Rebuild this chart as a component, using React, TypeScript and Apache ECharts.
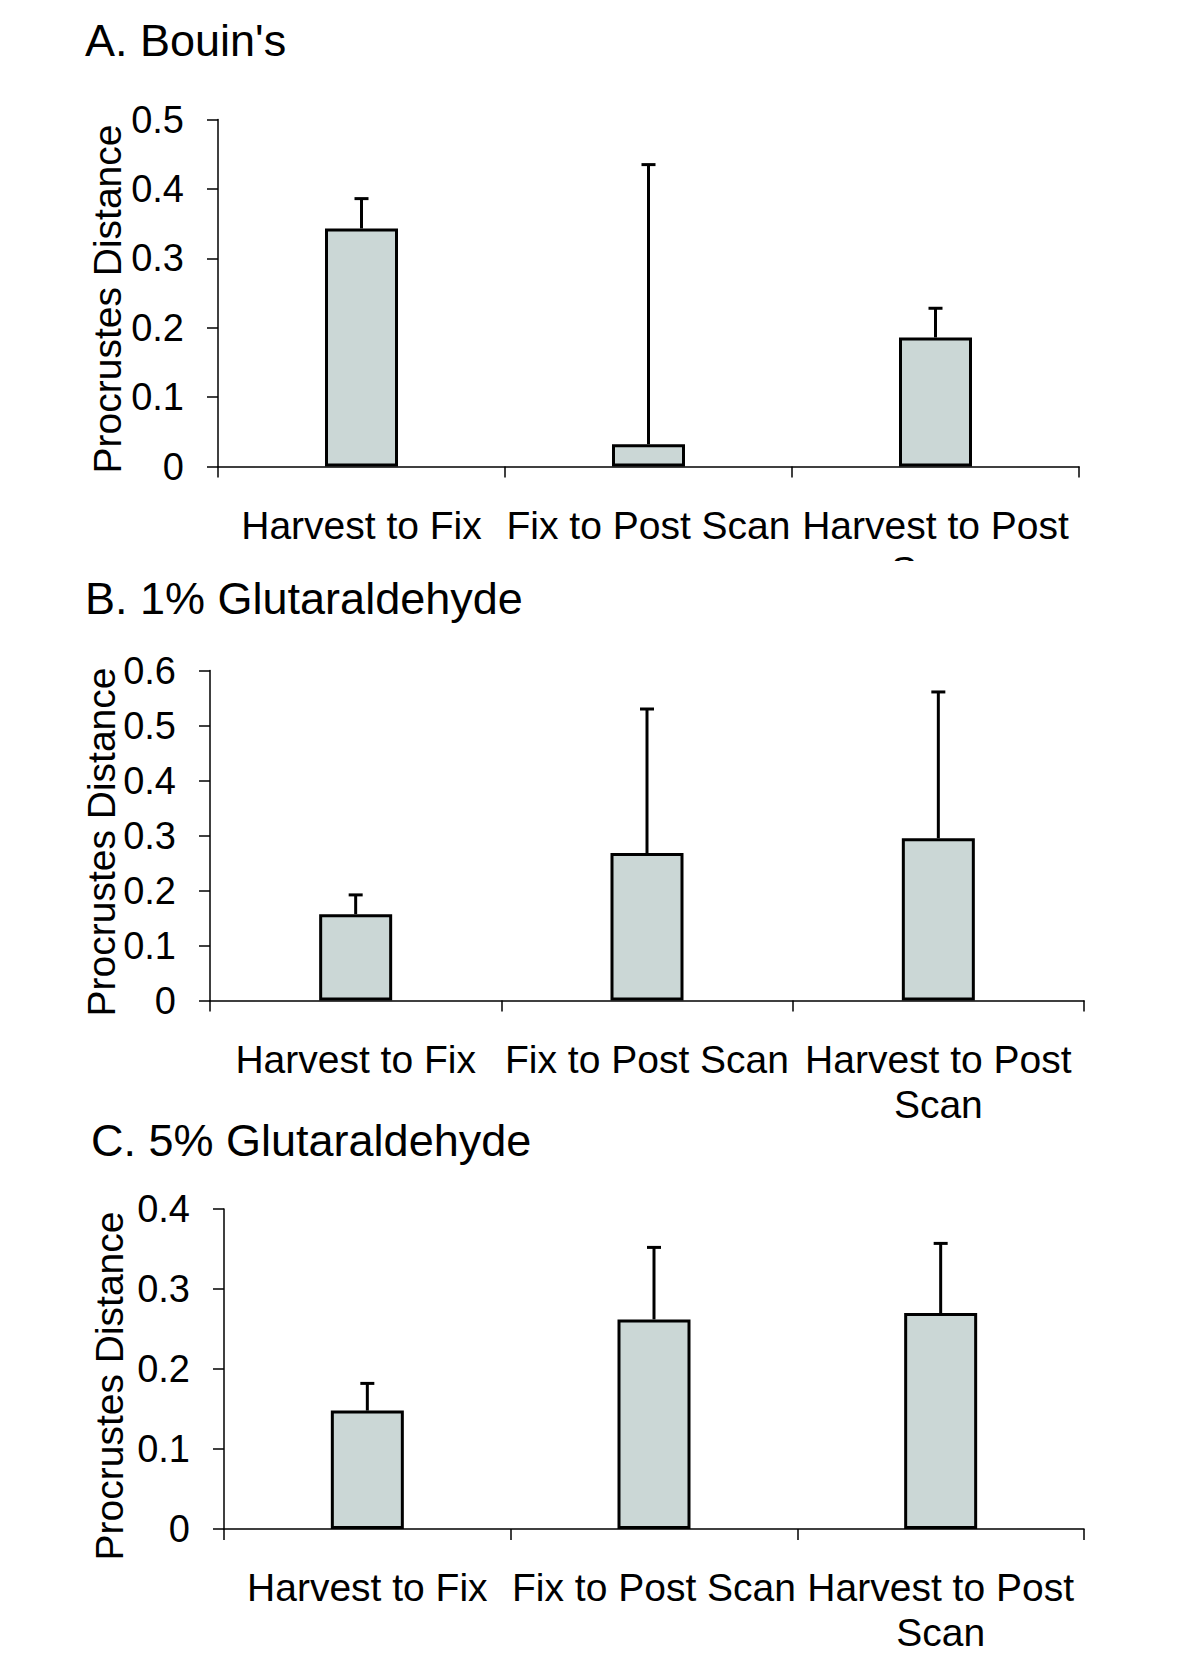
import React, { useEffect, useRef } from "react";
import * as echarts from "echarts";

const categoriesA = ["Harvest to Fix", "Fix to Post Scan", "Harvest to Post\nScan"];
const categoriesB = ["Harvest to Fix", "Fix to Post Scan", "Harvest to Post\nScan"];
const categoriesC = ["Harvest to Fix", "Fix to Post Scan", "Harvest to Post\nScan"];

const meanA = [0.343, 0.032, 0.186];
const upperA = [0.386, 0.435, 0.228];
const meanB = [0.157, 0.268, 0.295];
const upperB = [0.192, 0.53, 0.561];
const meanC = [0.148, 0.262, 0.27];
const upperC = [0.182, 0.352, 0.357];

const titleA = "A. Bouin's";
const titleB = "B. 1% Glutaraldehyde";
const titleC = "C. 5% Glutaraldehyde";
const yName = "Procrustes Distance";

const FONT = "'Liberation Sans', Arial, Helvetica, sans-serif";

type PanelCfg = {
  divTop: number;
  divHeight: number;
  title: string;
  titleX: number;
  titleY: number;
  nameX: number;
  nameY: number;
  gridLeft: number;
  gridRight: number;
  gridTop: number;
  gridHeight: number;
  yMax: number;
  categories: string[];
  mean: number[];
  upper: number[];
};

function buildOption(c: PanelCfg) {
  const off = c.divTop;
  return {
    animation: false,
    textStyle: { fontFamily: FONT },
    grid: {
      left: c.gridLeft,
      right: c.gridRight,
      top: c.gridTop - off,
      height: c.gridHeight,
      containLabel: false,
      outerBoundsMode: "none",
    },
    graphic: [
      {
        type: "text",
        x: c.titleX,
        y: c.titleY - off,
        style: {
          text: c.title,
          font: `45px ${FONT}`,
          fill: "#000",
          textAlign: "left",
          textVerticalAlign: "middle",
        },
      },
      {
        type: "text",
        x: c.nameX,
        y: c.nameY - off,
        rotation: Math.PI / 2,
        style: {
          text: yName,
          font: `39px ${FONT}`,
          fill: "#000",
          textAlign: "center",
          textVerticalAlign: "middle",
        },
      },
    ],
    xAxis: {
      type: "category",
      data: c.categories,
      boundaryGap: true,
      axisLine: { show: true, lineStyle: { color: "#000", width: 1.5 } },
      axisTick: { show: true, inside: false, length: 11, lineStyle: { color: "#000", width: 1.5 } },
      axisLabel: {
        interval: 0,
        margin: 36,
        color: "#000",
        fontSize: 39,
        lineHeight: 45,
        fontFamily: FONT,
      },
    },
    yAxis: {
      type: "value",
      min: 0,
      max: c.yMax,
      interval: 0.1,
      splitLine: { show: false },
      axisLine: { show: true, lineStyle: { color: "#000", width: 1.5 } },
      axisTick: { show: true, inside: false, length: 11, lineStyle: { color: "#000", width: 1.5 } },
      axisLabel: {
        margin: 34,
        color: "#000",
        fontSize: 38,
        fontFamily: FONT,
        formatter: (v: number) => (v === 0 ? "0" : String(Math.round(v * 10) / 10)),
      },
    },
    series: [
      {
        type: "bar",
        data: c.mean,
        barWidth: 73,
        itemStyle: { color: "#cbd7d6", borderColor: "#000", borderWidth: 3 },
        z: 2,
      },
      {
        type: "custom",
        z: 3,
        data: c.mean.map((m, i) => [i, m, c.upper[i]]),
        renderItem: (params: any, api: any) => {
          const base = api.coord([api.value(0), api.value(1)]);
          const top = api.coord([api.value(0), api.value(2)]);
          return {
            type: "group",
            children: [
              {
                type: "line",
                shape: { x1: base[0], y1: base[1], x2: base[0], y2: top[1] },
                style: { stroke: "#000", lineWidth: 3 },
              },
              {
                type: "line",
                shape: { x1: base[0] - 7, y1: top[1], x2: base[0] + 7, y2: top[1] },
                style: { stroke: "#000", lineWidth: 3 },
              },
            ],
          };
        },
      },
    ],
  };
}

function Panel({ cfg }: { cfg: PanelCfg }) {
  const ref = useRef<HTMLDivElement>(null);
  useEffect(() => {
    if (!ref.current) return;
    const chart = echarts.init(ref.current, undefined, { renderer: "svg" });
    chart.setOption(buildOption(cfg) as any);
    return () => chart.dispose();
  }, []);
  return (
    <div
      style={{
        position: "absolute",
        left: 0,
        top: cfg.divTop,
        width: 1200,
        height: cfg.divHeight,
        overflow: "hidden",
      }}
    >
      <div ref={ref} style={{ width: 1200, height: cfg.divHeight }} />
    </div>
  );
}

const panels: PanelCfg[] = [
  {
    divTop: 0,
    divHeight: 561,
    title: titleA,
    titleX: 85,
    titleY: 40,
    nameX: 107,
    nameY: 299,
    gridLeft: 218,
    gridRight: 121,
    gridTop: 119.5,
    gridHeight: 347,
    yMax: 0.5,
    categories: categoriesA,
    mean: meanA,
    upper: upperA,
  },
  {
    divTop: 561,
    divHeight: 580,
    title: titleB,
    titleX: 85,
    titleY: 598,
    nameX: 101,
    nameY: 842,
    gridLeft: 210,
    gridRight: 116,
    gridTop: 670.5,
    gridHeight: 330,
    yMax: 0.6,
    categories: categoriesB,
    mean: meanB,
    upper: upperB,
  },
  {
    divTop: 1100,
    divHeight: 575,
    title: titleC,
    titleX: 91,
    titleY: 1140,
    nameX: 109,
    nameY: 1386,
    gridLeft: 224,
    gridRight: 116,
    gridTop: 1209,
    gridHeight: 320,
    yMax: 0.4,
    categories: categoriesC,
    mean: meanC,
    upper: upperC,
  },
];

export default function App() {
  return (
    <div
      style={{
        position: "absolute",
        left: 0,
        top: 0,
        width: 1200,
        height: 1675,
        background: "#fff",
        overflow: "hidden",
      }}
    >
      {panels.map((p, i) => (
        <Panel key={i} cfg={p} />
      ))}
    </div>
  );
}
